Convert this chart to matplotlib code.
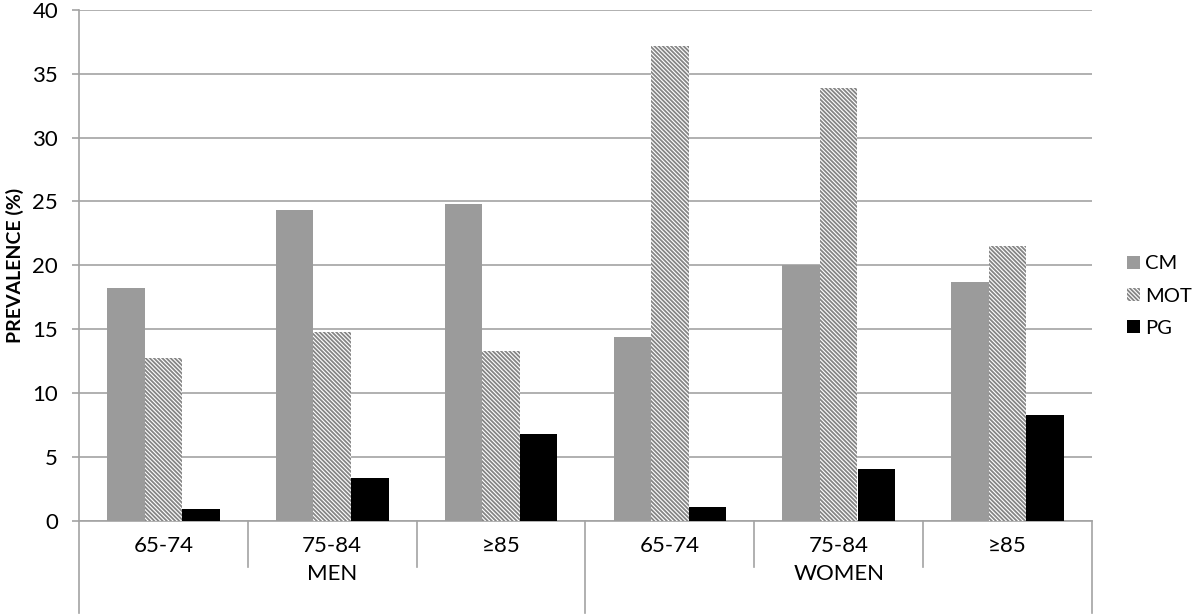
import matplotlib.pyplot as plt
import numpy as np

plt.rcParams['font.family'] = ['Lato', 'DejaVu Sans']
plt.rcParams['hatch.linewidth'] = 1.3

age_groups = ['65-74', '75-84', '≥85', '65-74', '75-84', '≥85']
sexes = ['MEN', 'WOMEN']
cm = [18.2, 24.3, 24.8, 14.4, 20.0, 18.7]
mot = [12.7, 14.8, 13.3, 37.2, 33.9, 21.5]
pg = [0.9, 3.3, 6.8, 1.05, 4.05, 8.3]

grey = '#a3a3a3'
x = np.arange(len(age_groups))
w = 1 / 4.5

fig = plt.figure(figsize=(12, 6.16), dpi=100)
ax = fig.add_axes([0.0658, 0.155, 0.8442, 0.8287])

b1 = ax.bar(x - w, cm, w, color='#9b9b9b', linewidth=0, label='CM', zorder=3)
b2 = ax.bar(x, mot, w, color='white', edgecolor='#858585', hatch='\\' * 8,
            linewidth=0, label='MOT', zorder=3)
b3 = ax.bar(x + w, pg, w, color='black', linewidth=0, label='PG', zorder=3)

ax.set_xlim(-0.5, len(age_groups) - 0.5)
ax.set_ylim(0, 40)
ax.set_yticks(np.arange(0, 41, 5))
ax.yaxis.grid(True, color=grey, linewidth=1.2, zorder=0)
ax.set_axisbelow(True)
ax.tick_params(axis='y', length=5, width=1.2, color=grey, pad=10, labelsize=16)
ax.set_xticks([])
for s in ['top', 'right']:
    ax.spines[s].set_visible(False)
for s in ['left', 'bottom']:
    ax.spines[s].set_color(grey)
    ax.spines[s].set_linewidth(1.2)

ax.set_ylabel('PREVALENCE (%)', fontsize=14, fontweight='bold', labelpad=6)

# two-level category axis
tr = ax.get_xaxis_transform()
for b in [0.5, 1.5, 3.5, 4.5]:
    ax.plot([b, b], [0, -0.091], color=grey, lw=1.2, transform=tr, clip_on=False)
for b in [-0.5, 2.5, 5.5]:
    ax.plot([b, b], [0, -0.181], color=grey, lw=1.2, transform=tr, clip_on=False)
for xi, lab in zip(x, age_groups):
    ax.text(xi, -0.05, lab, transform=tr, ha='center', va='center', fontsize=16)
for i, lab in enumerate(sexes):
    ax.text(1 + 3 * i, -0.104, lab, transform=tr, ha='center', va='center', fontsize=16)

fig.legend(handles=[b1, b2, b3], loc='center left', bbox_to_anchor=(1127 / 1200, 1 - 296 / 616),
           frameon=False, fontsize=14.5, handlelength=0.65, handleheight=0.65,
           handletextpad=0.25, labelspacing=0.75, borderpad=0, borderaxespad=0)

fig.savefig('out.png', dpi=100)
